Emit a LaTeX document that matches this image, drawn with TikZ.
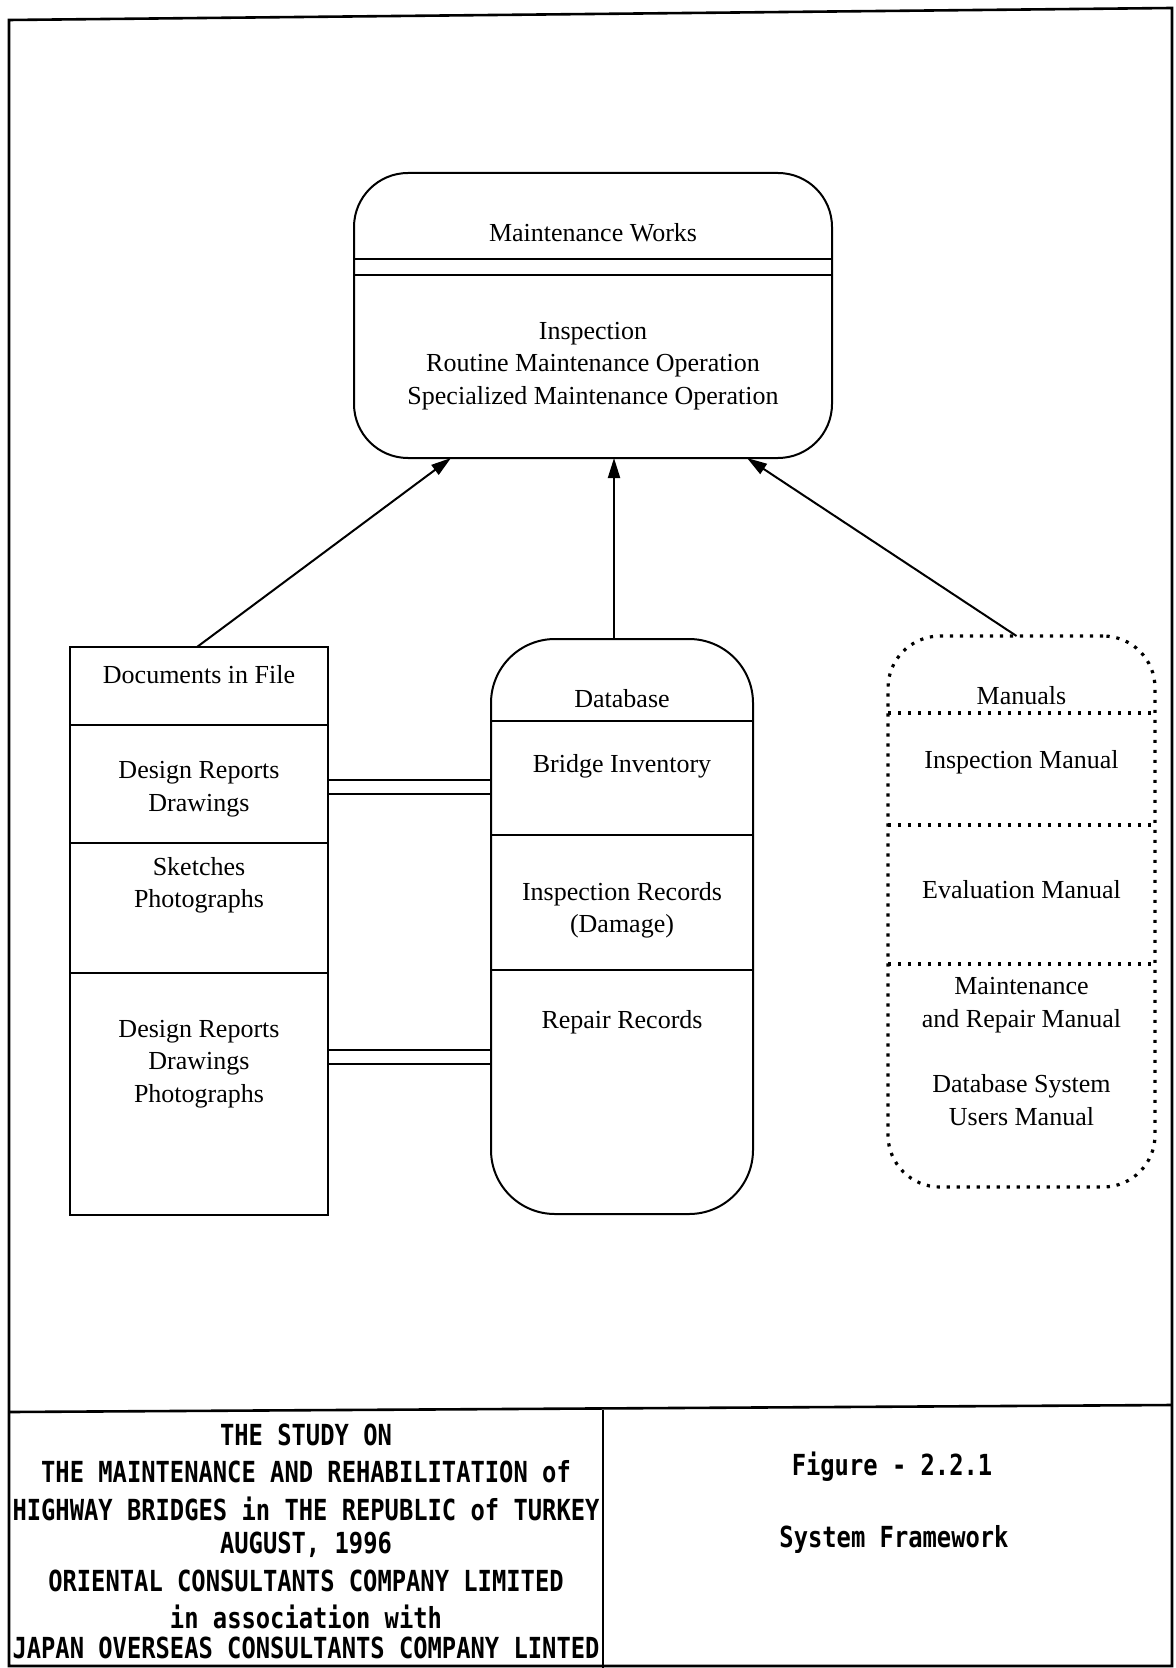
\documentclass[tikz,border=0pt]{standalone}
\usepackage{fontspec}
\setmainfont{Liberation Serif}
\newfontfamily\cadfont[FakeStretch=0.82]{DejaVu Sans Mono}
\usetikzlibrary{arrows.meta}
\begin{document}
\begin{tikzpicture}[x=0.5pt,y=-0.5pt,
  line width=1pt,
  boxbase/.style={draw, inner sep=0pt, outer sep=0pt},
  dotline/.style={line width=1.6pt, dash pattern=on 1.6pt off 3.4pt},
  lbl/.style={inner sep=0pt, align=center, font=\fontsize{13}{16.2}\selectfont},
  cad/.style={inner sep=0pt, font=\cadfont\bfseries\fontsize{14.5}{16}\selectfont},
  feed/.style={-{Triangle[length=10pt,width=6pt]}, line width=1pt},
  frameline/.style={line width=1.3pt},
]
\useasboundingbox (0,0) rectangle (1176,1668);
\fill[white] (0,0) rectangle (1176,1668);

% sheet frame and title block
\draw[frameline] (9,20) -- (1172,8) -- (1172,1666) -- (9,1666) -- cycle;
\draw[frameline] (9,1412) -- (1172,1405);
\draw[frameline] (603,1410) -- (603,1668);

% Maintenance Works
\node[boxbase, rounded corners=27pt, minimum width=239pt, minimum height=142.5pt] (mw) at (593,315.5) {};
\draw (mw.west |- 0,259) -- (mw.east |- 0,259);
\draw (mw.west |- 0,275) -- (mw.east |- 0,275);
\node[lbl] (mwtitle) at (593,233) {Maintenance Works};
\node[lbl] (mwbody) at (593,366) {Inspection\\Routine Maintenance Operation\\Specialized Maintenance Operation};

% Documents in File
\node[boxbase, minimum width=129pt, minimum height=284pt] (docs) at (199,931) {};
\draw (docs.west |- 0,725) -- (docs.east |- 0,725);
\draw (docs.west |- 0,843) -- (docs.east |- 0,843);
\draw (docs.west |- 0,973) -- (docs.east |- 0,973);
\node[lbl] (docstitle) at (199,675) {Documents in File};
\node[lbl] (docsa) at (199,789) {Design Reports\\Drawings};
\node[lbl] (docsb) at (199,885) {Sketches\\Photographs};
\node[lbl] (docsc) at (199,1064) {Design Reports\\Drawings\\Photographs};

% Database
\node[boxbase, rounded corners=32pt, minimum width=131pt, minimum height=287.5pt] (db) at (622,926.5) {};
\draw (db.west |- 0,721) -- (db.east |- 0,721);
\draw (db.west |- 0,835) -- (db.east |- 0,835);
\draw (db.west |- 0,970) -- (db.east |- 0,970);
\node[lbl] (dbtitle) at (622,699) {Database};
\node[lbl] (dba) at (622,766) {Bridge Inventory};
\node[lbl] (dbb) at (622,910) {Inspection Records\\(Damage)};
\node[lbl] (dbc) at (622,1022) {Repair Records};

% Manuals
\node[boxbase, dotline, rounded corners=26pt, minimum width=133.5pt, minimum height=275.5pt] (man) at (1021.5,911.5) {};
\draw[dotline] (man.west |- 0,713) -- (man.east |- 0,713);
\draw[dotline] (man.west |- 0,825) -- (man.east |- 0,825);
\draw[dotline] (man.west |- 0,964) -- (man.east |- 0,964);
\node[lbl] (mantitle) at (1021.5,696) {Manuals};
\node[lbl] (mana) at (1021.5,762) {Inspection Manual};
\node[lbl] (manb) at (1021.5,890) {Evaluation Manual};
\node[lbl] (manc) at (1021.5,1005) {Maintenance\\and Repair Manual};
\node[lbl] (mand) at (1021.5,1100) {Database System\\Users Manual};

% links between file documents and database records
\draw (docs.east |- 0,780) -- (db.west |- 0,780);
\draw (docs.east |- 0,794) -- (db.west |- 0,794);
\draw (docs.east |- 0,1050) -- (db.west |- 0,1050);
\draw (docs.east |- 0,1064) -- (db.west |- 0,1064);

% inputs to the maintenance works
\draw[feed] ([xshift=-1pt]docs.north) -- ([xshift=-71pt]mw.south);
\draw[feed] ([xshift=-4pt]db.north) -- ([xshift=10.5pt]mw.south);
\draw[feed] ([xshift=-2.5pt]man.north) -- ([xshift=77pt]mw.south);

% title block text
\node[cad] (t1) at (306,1435) {THE STUDY ON};
\node[cad] (t2) at (306,1472) {THE MAINTENANCE AND REHABILITATION of};
\node[cad] (t3) at (306,1509) {HIGHWAY BRIDGES in THE REPUBLIC of TURKEY};
\node[cad] (t4) at (306,1545) {AUGUST, 1996};
\node[cad] (t5) at (306,1581) {ORIENTAL CONSULTANTS COMPANY LIMITED};
\node[cad] (t6) at (306,1617) {in association with};
\node[cad] (t7) at (306,1648) {JAPAN OVERSEAS CONSULTANTS COMPANY LINTED};
\node[cad] (fig) at (892,1467) {Figure - 2.2.1};
\node[cad] (figname) at (894,1539) {System Framework};
\end{tikzpicture}
\end{document}
